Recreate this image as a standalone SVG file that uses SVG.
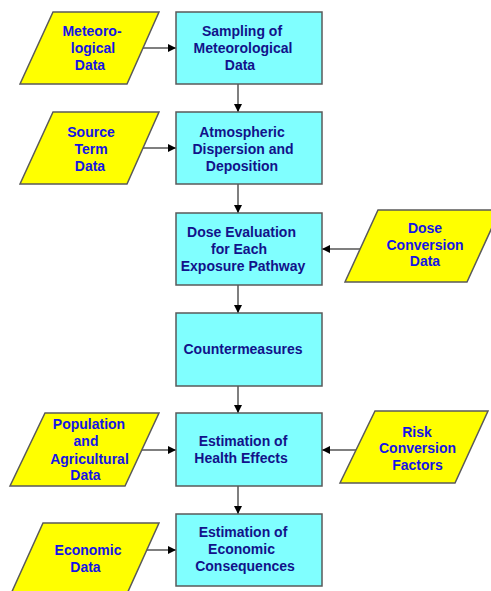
<svg xmlns="http://www.w3.org/2000/svg" width="491" height="591" viewBox="0 0 491 591">
<defs>
<marker id="ah" viewBox="0 0 10 10" refX="10" refY="5" markerWidth="8" markerHeight="8" markerUnits="userSpaceOnUse" orient="auto">
<path d="M0,0 L10,5 L0,10 Z" fill="#000"/>
</marker>
<style>
.box{fill:#80FFFF;stroke:#5a5a5a;stroke-width:1.5}
.io{fill:#FFFF00;stroke:#5a5a5a;stroke-width:1.5}
.bt{font-family:"Liberation Sans",Arial,sans-serif;font-weight:bold;font-size:14px;fill:#12128a;text-anchor:middle}
.yt{font-family:"Liberation Sans",Arial,sans-serif;font-weight:bold;font-size:14px;fill:#1414e6;text-anchor:middle}
.c{stroke:#555;stroke-width:1.5;fill:none;marker-end:url(#ah)}
</style>
</defs>
<rect width="491" height="591" fill="#fff"/>
<g id="connectors">
<line class="c" x1="238" y1="84" x2="238" y2="112"/>
<line class="c" x1="238" y1="184" x2="238" y2="213"/>
<line class="c" x1="238" y1="285" x2="238" y2="313"/>
<line class="c" x1="238" y1="386" x2="238" y2="413"/>
<line class="c" x1="238" y1="486" x2="238" y2="514"/>
<line class="c" x1="143" y1="48" x2="176" y2="48"/>
<line class="c" x1="143" y1="148" x2="176" y2="148"/>
<line class="c" x1="360" y1="249" x2="322" y2="249"/>
<line class="c" x1="142" y1="450" x2="176" y2="450"/>
<line class="c" x1="356" y1="450" x2="322" y2="450"/>
<line class="c" x1="147" y1="550" x2="176" y2="550"/>
</g>
<g id="sampling">
<rect class="box" x="176" y="12" width="146" height="72"/>
<text class="bt" x="242" y="36">Sampling of</text>
<text class="bt" x="243" y="53">Meteorological</text>
<text class="bt" x="240" y="70">Data</text>
</g>
<g id="dispersion">
<rect class="box" x="176" y="112" width="146" height="72"/>
<text class="bt" x="242" y="137">Atmospheric</text>
<text class="bt" x="243" y="154">Dispersion and</text>
<text class="bt" x="242" y="171">Deposition</text>
</g>
<g id="dose">
<rect class="box" x="176" y="213" width="146" height="72"/>
<text class="bt" x="241.5" y="237">Dose Evaluation</text>
<text class="bt" x="239" y="254">for Each</text>
<text class="bt" x="243" y="271">Exposure Pathway</text>
</g>
<g id="countermeasures">
<rect class="box" x="176" y="313" width="146" height="73"/>
<text class="bt" x="243" y="354">Countermeasures</text>
</g>
<g id="health">
<rect class="box" x="176" y="413" width="146" height="73"/>
<text class="bt" x="243" y="446">Estimation of</text>
<text class="bt" x="241" y="463">Health Effects</text>
</g>
<g id="economic">
<rect class="box" x="176" y="514" width="146" height="72"/>
<text class="bt" x="243" y="537">Estimation of</text>
<text class="bt" x="241.5" y="554">Economic</text>
<text class="bt" x="245" y="571">Consequences</text>
</g>
<g id="meteo-data">
<polygon class="io" points="53,12 159,12 127,84 20,84"/>
<text class="yt" x="92" y="36">Meteoro-</text>
<text class="yt" x="93" y="53">logical</text>
<text class="yt" x="90" y="70">Data</text>
</g>
<g id="source-term">
<polygon class="io" points="53,112 159,112 127,184 20,184"/>
<text class="yt" x="91" y="137">Source</text>
<text class="yt" x="91" y="154">Term</text>
<text class="yt" x="90" y="171">Data</text>
</g>
<g id="dose-conversion">
<polygon class="io" points="378,210 500,210 467,282 345,282"/>
<text class="yt" x="425" y="233">Dose</text>
<text class="yt" x="425" y="250">Conversion</text>
<text class="yt" x="425" y="266">Data</text>
</g>
<g id="population">
<polygon class="io" points="45,413 159,413 125,486 10,486"/>
<text class="yt" x="89" y="429">Population</text>
<text class="yt" x="86" y="446">and</text>
<text class="yt" x="89.5" y="464">Agricultural</text>
<text class="yt" x="85.5" y="480">Data</text>
</g>
<g id="risk-conversion">
<polygon class="io" points="375,411 488,411 455,483 340,483"/>
<text class="yt" x="417" y="437">Risk</text>
<text class="yt" x="417.5" y="453">Conversion</text>
<text class="yt" x="417.5" y="470">Factors</text>
</g>
<g id="economic-data">
<polygon class="io" points="43,523 159,523 126,596 10,596"/>
<text class="yt" x="88" y="555">Economic</text>
<text class="yt" x="85.5" y="572">Data</text>
</g>
</svg>
